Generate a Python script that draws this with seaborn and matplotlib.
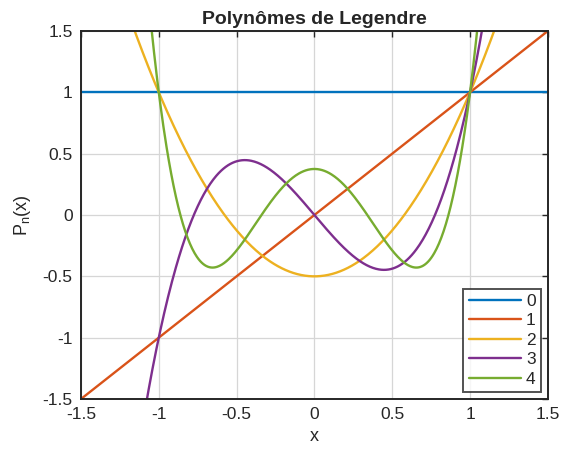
import numpy as np
import pandas as pd
import matplotlib
matplotlib.use("Agg")
import matplotlib.pyplot as plt
import seaborn as sns

# Legendre polynomial coefficients (highest degree first)
degrees = ["0", "1", "2", "3", "4"]
coef_p0 = [1.0]
coef_p1 = [1.0, 0.0]
coef_p2 = [1.5, 0.0, -0.5]
coef_p3 = [2.5, 0.0, -1.5, 0.0]
coef_p4 = [4.375, 0.0, -3.75, 0.0, 0.375]
colors = ["#0072BD", "#D95319", "#EDB120", "#7E2F8E", "#77AC30"]
ticks = [-1.5, -1, -0.5, 0, 0.5, 1, 1.5]
tick_labels = ["-1.5", "-1", "-0.5", "0", "0.5", "1", "1.5"]

sns.set_style("white")
plt.rcParams["font.family"] = ["Liberation Sans", "DejaVu Sans"]

x = np.linspace(-1.5, 1.5, 601)
frames = []
for name, c in zip(degrees, [coef_p0, coef_p1, coef_p2, coef_p3, coef_p4]):
    frames.append(pd.DataFrame({"x": x, "y": np.polyval(c, x), "n": name}))
df = pd.concat(frames)

fig = plt.figure(figsize=(5.66, 4.55), dpi=100)
ax = fig.add_axes([0.143, 0.123, 0.825, 0.809])
sns.lineplot(data=df, x="x", y="y", hue="n", palette=colors, linewidth=1.7, ax=ax, sort=False)

ax.set_xlim(-1.5, 1.5)
ax.set_ylim(-1.5, 1.5)
ax.set_xticks(ticks)
ax.set_xticklabels(tick_labels)
ax.set_yticks(ticks)
ax.set_yticklabels(tick_labels)
ax.grid(True, color="#d6d6d6", linewidth=0.9)
ax.set_axisbelow(True)
ax.tick_params(direction="in", top=True, right=True, length=4, width=1.0,
               labelsize=12.5, colors="#262626", pad=6)
for s in ax.spines.values():
    s.set_color("#262626")
    s.set_linewidth(1.4)
ax.set_title("Polynômes de Legendre", fontsize=14, fontweight="bold", pad=5)
ax.set_xlabel("x", fontsize=13, color="#262626", labelpad=4)
ax.set_ylabel(r"$\mathregular{P_n(x)}$", fontsize=13, color="#262626", labelpad=7)

leg = ax.legend(loc="lower right", fontsize=12.5, frameon=True, fancybox=False,
                edgecolor="#262626", borderaxespad=0.4, handlelength=3.0,
                handletextpad=0.3, labelspacing=0.25, borderpad=0.3, markerfirst=True)
leg.get_frame().set_linewidth(1.4)
leg.set_title(None)

fig.savefig("out.png", dpi=100)
